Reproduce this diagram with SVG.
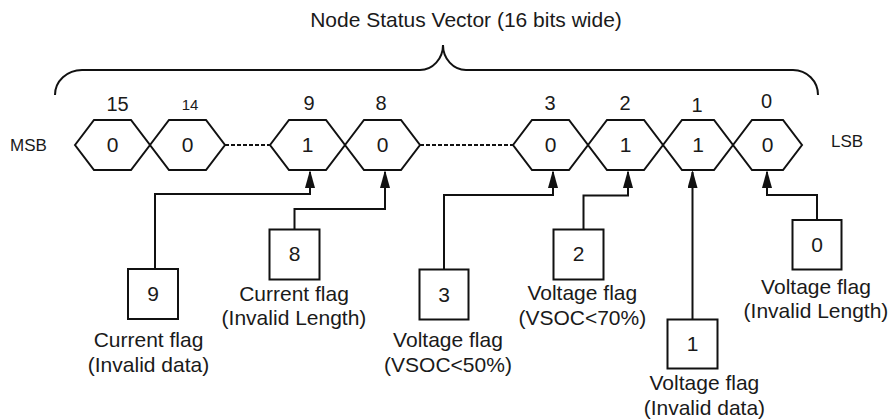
<svg xmlns="http://www.w3.org/2000/svg" width="891" height="420" viewBox="0 0 891 420">
<style>
  text { font-family: "Liberation Sans", Arial, sans-serif; fill: #1a1a1a; }
  .hex { fill: none; stroke: #111; stroke-width: 2; stroke-linejoin: miter; }
  .box { fill: #fff; stroke: #111; stroke-width: 2; }
  .val { font-size: 21px; text-anchor: middle; }
  .bit { font-size: 20px; text-anchor: middle; }
  .lbl { font-size: 21px; text-anchor: middle; }
  .side { font-size: 17px; }
  .wire { fill: none; stroke: #111; stroke-width: 2; }
  .dash { fill: none; stroke: #111; stroke-width: 2; stroke-dasharray: 4 2; }
  .brace { fill: none; stroke: #111; stroke-width: 2; }
</style>
<defs>
  <marker id="arr" markerUnits="userSpaceOnUse" markerWidth="18" markerHeight="10" refX="16" refY="5" orient="auto">
    <path d="M0,0 L18,5 L0,10 z" fill="#111"/>
  </marker>
</defs>
<rect width="891" height="420" fill="#fff"/>

<g id="title">
  <text x="466" y="26.5" style="font-size:21px" text-anchor="middle">Node Status Vector (16 bits wide)</text>
  <path class="brace" d="M55,95 A27,25 0 0 1 82,70 L420,70 A23,25 0 0 0 443,45 A23,25 0 0 0 466,70 L793,70 A25,25 0 0 1 818,95"/>
</g>

<text class="side" x="28.5" y="150.5" text-anchor="middle">MSB</text>
<text class="side" x="831" y="147">LSB</text>

<g id="bit15">
  <polygon class="hex" points="75,145 94,120 131,120 150,145 131,170 94,170"/>
  <text class="bit" x="117.5" y="110.5">15</text>
  <text class="val" x="112.5" y="152">0</text>
</g>
<g id="bit14">
  <polygon class="hex" points="150,145 169,120 206,120 225,145 206,170 169,170"/>
  <text class="bit" x="190" y="110" style="font-size:15px">14</text>
  <text class="val" x="187.5" y="152">0</text>
</g>
<g id="bit9">
  <polygon class="hex" points="270,145 289,120 326,120 345,145 326,170 289,170"/>
  <text class="bit" x="309" y="109.5">9</text>
  <text class="val" x="307.5" y="152">1</text>
</g>
<g id="bit8">
  <polygon class="hex" points="345,145 364,120 401,120 420,145 401,170 364,170"/>
  <text class="bit" x="381" y="109.5">8</text>
  <text class="val" x="382.5" y="152">0</text>
</g>
<g id="bit3">
  <polygon class="hex" points="513,145 532,120 569,120 588,145 569,170 532,170"/>
  <text class="bit" x="550" y="109.5">3</text>
  <text class="val" x="550.5" y="152">0</text>
</g>
<g id="bit2">
  <polygon class="hex" points="588,145 607,120 644,120 663,145 644,170 607,170"/>
  <text class="bit" x="625" y="109.5">2</text>
  <text class="val" x="625.5" y="152">1</text>
</g>
<g id="bit1">
  <polygon class="hex" points="663,145 682,120 714,120 733,145 714,170 682,170"/>
  <text class="bit" x="697" y="112">1</text>
  <text class="val" x="698" y="152">1</text>
</g>
<g id="bit0">
  <polygon class="hex" points="733,145 752,120 783,120 802,145 783,170 752,170"/>
  <text class="bit" x="766.5" y="108">0</text>
  <text class="val" x="767.5" y="152">0</text>
</g>

<g id="connectors">
  <line class="dash" x1="225" y1="145" x2="270" y2="145"/>
  <line class="dash" x1="420" y1="145" x2="513" y2="145"/>
  <path class="wire" d="M155,269 V194 H310 V172" marker-end="url(#arr)"/>
  <path class="wire" d="M294.5,229.5 V209 H385 V172" marker-end="url(#arr)"/>
  <path class="wire" d="M444,269.5 V195 H553 V172" marker-end="url(#arr)"/>
  <path class="wire" d="M583.5,229.5 V195.5 H628 V172" marker-end="url(#arr)"/>
  <path class="wire" d="M692.5,319.5 V172" marker-end="url(#arr)"/>
  <path class="wire" d="M817,220 V195 H767 V172" marker-end="url(#arr)"/>
</g>

<g id="flag9">
  <rect class="box" x="128" y="269" width="50" height="50"/>
  <text class="val" x="153" y="301">9</text>
  <text class="lbl" x="148.5" y="347">Current flag</text>
  <text class="lbl" x="148.5" y="372">(Invalid data)</text>
</g>
<g id="flag8">
  <rect class="box" x="269.5" y="229.5" width="50" height="50"/>
  <text class="val" x="294.5" y="261">8</text>
  <text class="lbl" x="294" y="300.5">Current flag</text>
  <text class="lbl" x="294" y="325">(Invalid Length)</text>
</g>
<g id="flag3">
  <rect class="box" x="419.5" y="269.5" width="49" height="50"/>
  <text class="val" x="444" y="301.5">3</text>
  <text class="lbl" x="448" y="347">Voltage flag</text>
  <text class="lbl" x="448" y="372">(VSOC&lt;50%)</text>
</g>
<g id="flag2">
  <rect class="box" x="553.5" y="229.5" width="50" height="50"/>
  <text class="val" x="578.5" y="261">2</text>
  <text class="lbl" x="582.3" y="300">Voltage flag</text>
  <text class="lbl" x="582.3" y="324.5">(VSOC&lt;70%)</text>
</g>
<g id="flag1">
  <rect class="box" x="667.5" y="319.5" width="50" height="49"/>
  <text class="val" x="692.5" y="351">1</text>
  <text class="lbl" x="704.4" y="390">Voltage flag</text>
  <text class="lbl" x="704.4" y="414.5">(Invalid data)</text>
</g>
<g id="flag0">
  <rect class="box" x="792.5" y="220" width="49" height="49.5"/>
  <text class="val" x="817" y="251.5">0</text>
  <text class="lbl" x="816" y="293.5">Voltage flag</text>
  <text class="lbl" x="816" y="317.5">(Invalid Length)</text>
</g>
</svg>
